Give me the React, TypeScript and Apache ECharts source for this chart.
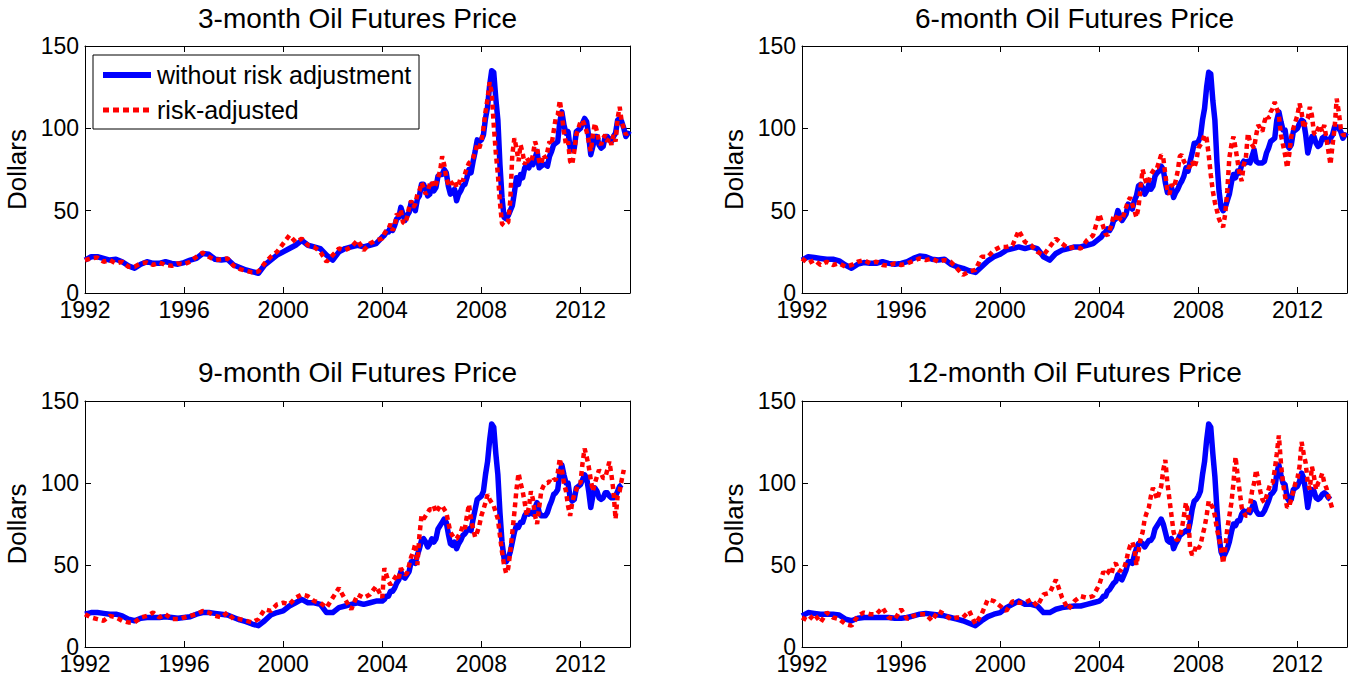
import React, { useEffect, useRef } from "react";
import * as echarts from "echarts";

const FONT = "'Liberation Sans', Arial, Helvetica, sans-serif";

const X_MIN = 1992;
const X_MAX = 2014;
const X_STEP = 4;
const Y_MIN = 0;
const Y_MAX = 150;
const Y_STEP = 50;

const TITLES = [
  "3-month Oil Futures Price",
  "6-month Oil Futures Price",
  "9-month Oil Futures Price",
  "12-month Oil Futures Price",
];
const Y_NAME = "Dollars";
const LEGEND_LABELS = ["without risk adjustment", "risk-adjusted"];

// quarterly values 1992Q1..2003Q4, then monthly values from Jan 2004
const EARLY_START = 1992;
const LATE_START = 2004;

// ---------- 3-month ----------
const blue3Early = [
  20, 22, 22, 21, 20, 20.5, 19, 16.5, 15, 17.5, 19, 18, 18, 19, 18, 17.5,
  18.5, 20, 21, 24, 23.5, 20.5, 20, 20.5, 17, 15.5, 14, 13, 12, 17, 20, 23,
  25, 27, 29, 32, 29, 28, 27, 23, 20, 25, 27, 28, 29, 28, 29, 30,
];
const blue3Late = [
  34, 35, 37, 37, 40, 38, 41, 45, 46, 52, 48, 44,
  47, 49, 55, 53, 50, 57, 59, 66, 66, 63, 59, 60,
  66, 62, 64, 71, 72, 72, 75, 73, 65, 60, 61, 63,
  56, 60, 62, 65, 66, 70, 75, 73, 80, 86, 93, 92,
  93, 96, 106, 113, 126, 135, 134, 118, 105, 78, 58, 46,
  45, 47, 50, 53, 61, 70, 66, 72, 70, 76, 78, 76,
  80, 78, 82, 86, 76, 77, 78, 78, 77, 83, 86, 90,
  91, 92, 104, 110, 102, 97, 98, 88, 87, 88, 98, 99,
  100, 103, 106, 104, 95, 84, 89, 95, 95, 90, 88, 89,
  95, 95, 93, 92, 95, 97, 105, 106, 104, 100, 95, 97,
  96,
];
const red3Early = [
  20, 21, 21.5, 19, 20, 18, 19, 16, 16, 18, 18.5, 17, 18.5, 17, 16.5, 18,
  17.5, 19, 22, 24.5, 22, 20, 20.5, 21, 16.5, 14.5, 13.5, 12.5, 13, 18, 22, 25,
  30, 35, 31, 33, 29, 28, 25, 19, 23, 27, 26, 28, 32, 26, 30, 32,
];
const red3Late = [
  33, 36, 38, 39, 42, 38, 40, 48, 47, 50, 43, 42,
  46, 52, 56, 52, 54, 60, 62, 67, 64, 60, 62, 66,
  68, 64, 66, 70, 74, 83, 78, 70, 66, 68, 66, 68,
  64, 66, 70, 68, 72, 76, 79, 80, 82, 86, 90, 88,
  92, 100, 110, 118, 128, 122, 102, 85, 72, 55, 42, 41,
  42, 43, 56, 84, 94, 88, 80, 90, 85, 78, 82, 80,
  79, 84, 92, 88, 80, 78, 84, 82, 86, 92, 90, 98,
  106, 108, 117, 108, 98, 90, 92, 80, 78, 86, 96, 100,
  104, 105, 102, 98, 92, 86, 96, 103, 98, 92, 90, 94,
  96, 92, 94, 90, 96, 92, 106, 113, 104, 100, 96, 98,
  98,
];

// ---------- 6-month ----------
const blue6Early = [
  20, 22, 21.5, 21, 20.5, 20.5, 19.5, 17, 15, 17.5, 18.5, 18, 18, 19, 18, 17.5,
  18, 19, 21, 22.5, 22, 20.5, 20, 20.5, 17.5, 16, 15, 13.5, 12.5, 16, 19.5, 22,
  23.5, 26, 27, 28, 27, 28, 27, 22, 20, 24, 26, 27, 28, 28, 29, 30,
];
const blue6Late = [
  33, 34, 36, 37, 39, 38, 40, 44, 45, 50, 47, 44,
  46, 48, 54, 53, 51, 56, 59, 65, 66, 64, 60, 62,
  66, 63, 65, 71, 73, 74, 77, 75, 67, 61, 62, 64,
  58, 61, 63, 66, 68, 71, 76, 74, 80, 85, 91, 91,
  92, 95, 105, 112, 125, 134, 133, 117, 105, 80, 62, 52,
  50, 52, 56, 60, 67, 72, 70, 74, 73, 78, 80, 79,
  80, 79, 83, 87, 80, 79, 79, 79, 80, 85, 88, 92,
  93, 94, 105, 110, 104, 99, 99, 90, 88, 90, 98, 99,
  100, 103, 105, 104, 96, 85, 90, 95, 95, 91, 89, 90,
  94, 95, 93, 92, 94, 96, 101, 101, 100, 98, 94, 96,
  95,
];
const red6Early = [
  21, 18, 20, 17, 19, 17, 18, 16, 17, 19, 20, 18, 19, 17, 16.5, 18,
  17, 18, 19.5, 21, 20, 21, 19, 20, 19, 15, 11, 13, 14, 22, 22, 26,
  28, 28, 29, 38, 31, 29, 25, 23, 28, 33, 30, 27, 28, 27, 32, 35,
];
const red6Late = [
  48, 44, 40, 36, 35, 38, 42, 47, 45, 48, 45, 44,
  48, 52, 56, 58, 54, 50, 46, 52, 64, 75, 70, 66,
  68, 72, 74, 76, 76, 80, 84, 82, 72, 62, 60, 66,
  64, 68, 74, 83, 84, 80, 78, 76, 77, 80, 76, 80,
  88, 90, 92, 96, 94, 84, 72, 62, 55, 50, 45, 42,
  40, 48, 62, 82, 90, 95, 88, 80, 72, 68, 78, 82,
  97, 92, 90, 88, 96, 102, 100, 98, 104, 108, 106, 110,
  112, 116, 112, 108, 96, 90, 84, 76, 84, 95, 100, 104,
  108, 115, 110, 100, 104, 106, 113, 108, 97, 96, 100, 102,
  98, 102, 94, 86, 78, 90, 100, 118, 110, 100, 96, 96,
  96,
];

// ---------- 9-month ----------
const blue9Early = [
  20, 21, 21, 20.5, 20, 20, 19, 17, 16, 17.5, 18, 18, 18, 18.5, 18, 17.5,
  18, 18.5, 20, 21, 21, 20.5, 20, 19.5, 18, 16.5, 15.5, 14, 13, 16, 19.5, 21,
  22, 25, 27, 29, 27, 27, 26, 21, 21, 24, 25, 26, 27, 26, 27, 28,
];
const blue9Late = [
  28, 29, 31, 31, 34, 34, 36, 39, 41, 46, 43, 42,
  44, 46, 52, 52, 51, 56, 60, 65, 66, 64, 61, 63,
  66, 64, 66, 72, 74, 76, 78, 76, 69, 63, 62, 64,
  60, 63, 65, 68, 69, 71, 72, 71, 78, 84, 90, 91,
  92, 95, 105, 113, 126, 136, 134, 118, 105, 82, 64, 54,
  52, 54, 58, 64, 70, 74, 73, 76, 76, 80, 82, 81,
  82, 81, 85, 88, 82, 80, 80, 80, 82, 86, 89, 93,
  94, 96, 106, 111, 105, 100, 100, 91, 89, 90, 97, 98,
  99, 102, 105, 103, 95, 85, 92, 97, 95, 91, 90, 91,
  94, 94, 92, 91, 91, 92, 95, 98, 99,
];
const red9Early = [
  20, 18, 17, 16, 19, 18, 16, 15, 15, 18, 19, 21, 18, 20, 17, 17,
  18, 19, 20, 22, 21, 19, 18, 21, 17, 17, 16, 15, 17, 23, 22, 26,
  27, 26, 30, 32, 31, 28, 27, 24, 30, 36, 29, 23, 32, 30, 32, 37,
];
const red9Late = [
  30, 48, 44, 40, 38, 40, 42, 44, 42, 48, 46, 44,
  45, 50, 55, 58, 63, 50, 68, 80, 78, 80, 82, 84,
  84, 86, 82, 84, 86, 86, 84, 82, 76, 70, 68, 66,
  66, 68, 70, 74, 72, 80, 87, 78, 72, 67, 70, 74,
  80, 84, 88, 93, 90, 88, 86, 82, 78, 68, 58, 50,
  45, 48, 58, 70, 82, 96, 106, 100, 95, 88, 80, 85,
  95, 90, 80, 75, 85, 95, 98, 100, 100, 101, 100, 102,
  102, 106, 115, 108, 100, 95, 86, 80, 88, 93, 96, 100,
  100, 112, 121, 116, 110, 102, 95, 100, 104, 108, 106, 103,
  103, 108, 113, 105, 95, 78, 92, 95, 102, 108,
];

// ---------- 12-month ----------
const blue12Early = [
  19, 21, 20.5, 20, 20, 20, 19.5, 17, 16, 17.5, 18, 18, 18, 18, 18, 17.5,
  17.5, 18, 19, 20, 20.5, 20, 19.5, 19, 18, 17, 16, 14.5, 13, 16, 18.5, 20,
  21, 24, 26, 28, 26, 26, 25, 21, 21, 23, 24, 24.5, 25, 25, 26, 27,
];
const blue12Late = [
  28, 29, 31, 31, 34, 35, 37, 39, 40, 44, 42, 41,
  44, 47, 52, 52, 51, 56, 60, 63, 64, 63, 61, 63,
  65, 65, 67, 72, 74, 76, 78, 75, 70, 65, 64, 66,
  60, 63, 65, 68, 69, 70, 71, 70, 76, 84, 89, 90,
  92, 95, 105, 113, 126, 136, 134, 118, 104, 84, 68, 58,
  55, 57, 60, 64, 70, 75, 74, 77, 77, 81, 83, 82,
  83, 82, 85, 88, 83, 81, 81, 81, 83, 86, 89, 93,
  94, 96, 106, 111, 105, 100, 99, 91, 89, 90, 96, 97,
  98, 101, 106, 103, 95, 85, 92, 96, 95, 91, 90, 91,
  93, 94, 93, 91, 90,
];
const red12Early = [
  18, 16, 20, 15, 21, 18, 17, 14, 13, 19, 21, 20, 20, 24, 18, 17,
  23, 17, 19, 20, 20, 16, 22, 20, 17, 18, 18, 22, 14, 20, 29, 28,
  25, 22, 28, 27, 27, 29, 25, 32, 33, 41, 30, 23, 28, 31, 30, 31,
];
const red12Late = [
  38, 42, 46, 44, 45, 47, 45, 50, 51, 48, 46, 48,
  48, 52, 58, 62, 64, 60, 50, 58, 66, 70, 78, 82,
  85, 92, 97, 94, 90, 94, 98, 108, 114, 100, 90, 80,
  70, 66, 65, 68, 72, 80, 88, 82, 60, 56, 58, 62,
  60, 62, 68, 73, 80, 89, 87, 85, 80, 72, 66, 60,
  51, 60, 72, 80, 88, 100, 116, 105, 95, 85, 82, 80,
  80, 86, 95, 100, 108, 102, 95, 90, 88, 92, 96, 100,
  100, 108, 118, 129, 112, 100, 92, 85, 86, 90, 95, 100,
  103, 110, 125, 118, 112, 100, 96, 110, 104, 96, 100, 102,
  106, 100, 97, 92, 88, 84,
];

const PANELS = [
  { blue: [blue3Early, blue3Late], red: [red3Early, red3Late] },
  { blue: [blue6Early, blue6Late], red: [red6Early, red6Late] },
  { blue: [blue9Early, blue9Late], red: [red9Early, red9Late] },
  { blue: [blue12Early, blue12Late], red: [red12Early, red12Late] },
];

function toPoints(early: number[], late: number[]) {
  const out: number[][] = [];
  early.forEach((v, i) => out.push([EARLY_START + i * 0.25, v]));
  late.forEach((v, j) => out.push([LATE_START + j / 12, v]));
  return out;
}

const GRIDS = [
  { left: 85, top: 46, width: 545, height: 247 },
  { left: 802, top: 46, width: 545, height: 247 },
  { left: 85, top: 401, width: 545, height: 246 },
  { left: 802, top: 401, width: 545, height: 246 },
];

function buildOption() {
  const grid: any[] = [];
  const xAxis: any[] = [];
  const yAxis: any[] = [];
  const series: any[] = [];
  const graphic: any[] = [];
  const lineC = { show: true, onZero: false, lineStyle: { color: "#000", width: 1 } };
  const tick = { show: true, inside: true, length: 6, lineStyle: { color: "#000" } };

  GRIDS.forEach((g, i) => {
    grid.push({ ...g, containLabel: false });
    xAxis.push({
      type: "value", gridIndex: i, position: "bottom",
      min: X_MIN, max: X_MAX, interval: X_STEP,
      axisLine: lineC, axisTick: tick,
      axisLabel: {
        show: true, margin: 5, color: "#000", fontSize: 23, fontFamily: FONT,
        showMaxLabel: false, formatter: (v: number) => String(v),
      },
      splitLine: { show: false },
    });
    xAxis.push({
      type: "value", gridIndex: i, position: "top",
      min: X_MIN, max: X_MAX, interval: X_STEP,
      axisLine: lineC, axisTick: tick,
      axisLabel: { show: false },
      splitLine: { show: false },
    });
    yAxis.push({
      type: "value", gridIndex: i, position: "left",
      min: Y_MIN, max: Y_MAX, interval: Y_STEP,
      name: Y_NAME, nameLocation: "middle", nameGap: 55,
      nameTextStyle: { color: "#000", fontSize: 26, fontFamily: FONT },
      axisLine: lineC, axisTick: tick,
      axisLabel: { show: true, margin: 6, color: "#000", fontSize: 23, fontFamily: FONT },
      splitLine: { show: false },
    });
    yAxis.push({
      type: "value", gridIndex: i, position: "right",
      min: Y_MIN, max: Y_MAX, interval: Y_STEP,
      axisLine: lineC, axisTick: tick,
      axisLabel: { show: false },
      splitLine: { show: false },
    });
    const p = PANELS[i];
    series.push({
      type: "line", name: LEGEND_LABELS[0], xAxisIndex: 2 * i, yAxisIndex: 2 * i,
      data: toPoints(p.blue[0], p.blue[1]), showSymbol: false, symbol: "none",
      lineStyle: { color: "#0000ff", width: 5.5, join: "round" }, z: 2, clip: true,
    });
    series.push({
      type: "line", name: LEGEND_LABELS[1], xAxisIndex: 2 * i, yAxisIndex: 2 * i,
      data: toPoints(p.red[0], p.red[1]), showSymbol: false, symbol: "none",
      lineStyle: { color: "#ff0000", width: 4.5, type: [5, 4] }, z: 3, clip: true,
    });
    graphic.push({
      type: "text", x: g.left + g.width / 2, y: i < 2 ? 18 : 372, z: 10,
      style: {
        text: TITLES[i], fontSize: 28, fontFamily: FONT, fill: "#000",
        align: "center", verticalAlign: "middle", textAlign: "center", textVerticalAlign: "middle",
      },
    });
  });

  // legend box in the first panel
  graphic.push({
    type: "group", z: 100,
    children: [
      { type: "rect", shape: { x: 93, y: 55, width: 326, height: 74 }, style: { fill: "#fff", stroke: "#000", lineWidth: 1 } },
      { type: "line", shape: { x1: 103, y1: 75, x2: 151, y2: 75 }, style: { stroke: "#0000ff", lineWidth: 6 } },
      { type: "line", shape: { x1: 103, y1: 110, x2: 151, y2: 110 }, style: { stroke: "#ff0000", lineWidth: 5, lineDash: [6, 4] } },
      {
        type: "text", x: 157, y: 75,
        style: { text: LEGEND_LABELS[0], fontSize: 25, fontFamily: FONT, fill: "#000", verticalAlign: "middle", textVerticalAlign: "middle" },
      },
      {
        type: "text", x: 157, y: 110,
        style: { text: LEGEND_LABELS[1], fontSize: 25, fontFamily: FONT, fill: "#000", verticalAlign: "middle", textVerticalAlign: "middle" },
      },
    ],
  });

  return {
    animation: false,
    backgroundColor: "#ffffff",
    grid, xAxis, yAxis, series, graphic,
    tooltip: { show: false },
  };
}

export default function App() {
  const ref = useRef<HTMLDivElement>(null);
  useEffect(() => {
    document.body.style.margin = "0";
    document.documentElement.style.margin = "0";
    if (!ref.current) return;
    const chart = echarts.init(ref.current, undefined, { renderer: "svg" });
    chart.setOption(buildOption() as any);
    return () => chart.dispose();
  }, []);
  return <div ref={ref} style={{ width: 1354, height: 681, background: "#fff" }} />;
}
